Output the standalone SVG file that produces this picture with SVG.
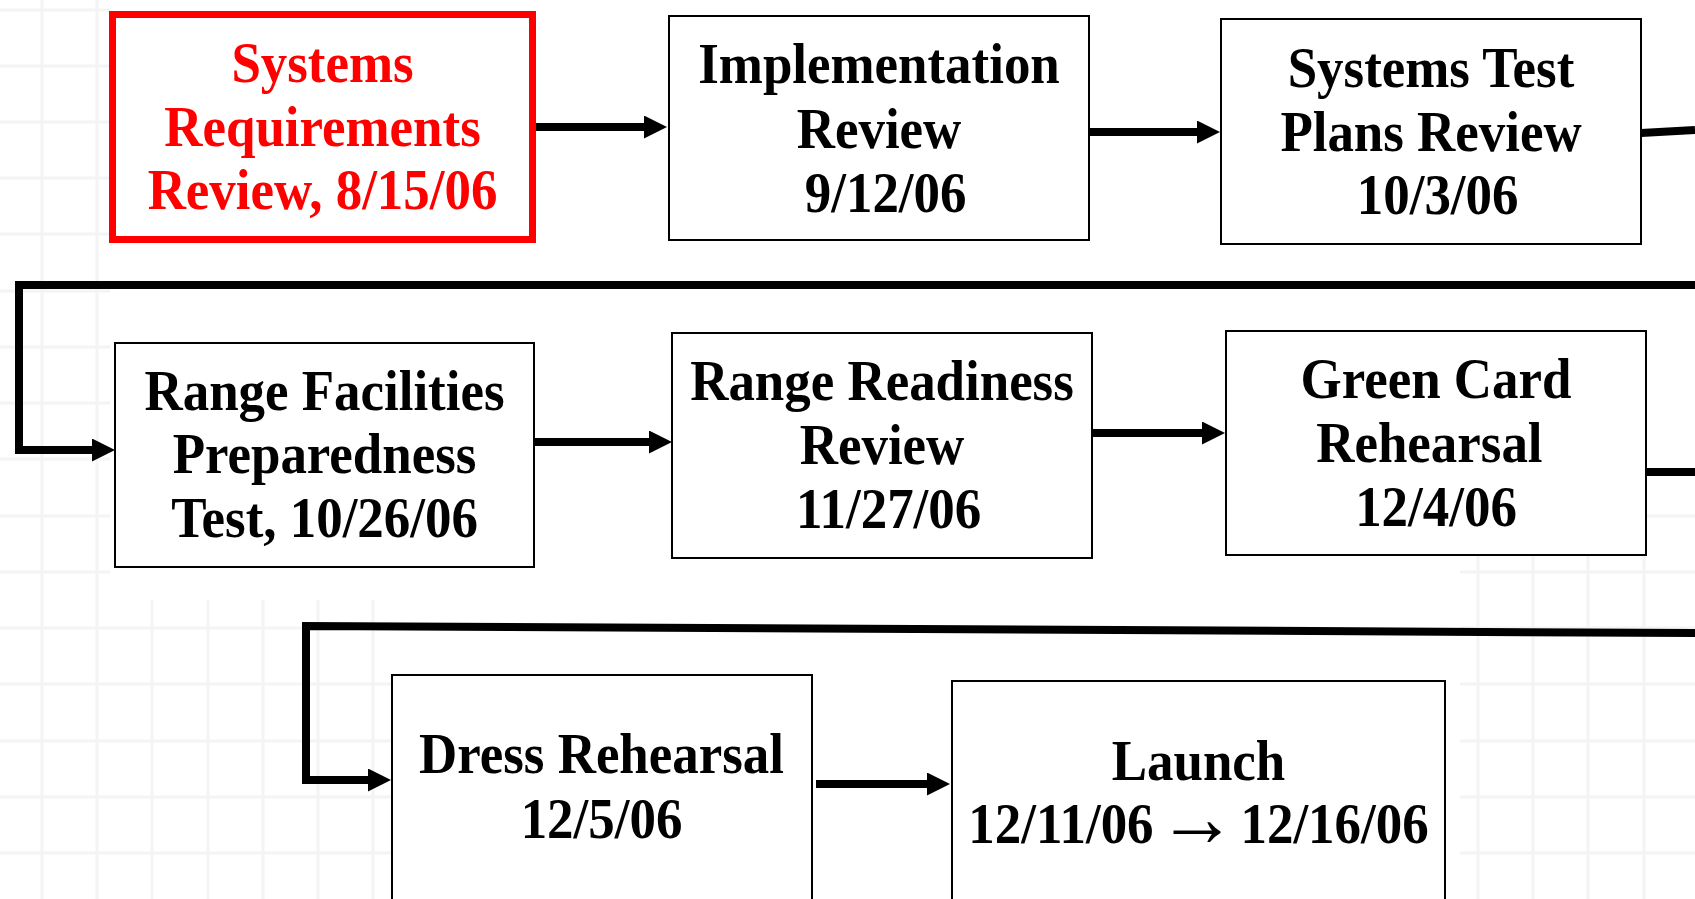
<svg xmlns="http://www.w3.org/2000/svg" width="1695" height="899" viewBox="0 0 1695 899">
  <style>
    .grid line { stroke: #f4f4f4; stroke-width: 3; }
    .box { fill: #ffffff; stroke: #000000; stroke-width: 2; }
    .box-hot { fill: #ffffff; stroke: #ff0000; stroke-width: 7; }
    .lbl { font-family: "Liberation Serif", "Times New Roman", serif; font-weight: bold; font-size: 56px; text-anchor: middle; fill: #000000; }
    .lbl-hot { fill: #ff0000; }
    .wire { fill: none; stroke: #000000; stroke-width: 8; stroke-linejoin: miter; stroke-linecap: butt; }
  </style>
  <defs>
    <marker id="head" markerUnits="userSpaceOnUse" viewBox="0 0 23 23" markerWidth="23" markerHeight="23" refX="0" refY="11.5" orient="auto">
      <path d="M0,0 L23,11.5 L0,23 Z" fill="#000000"/>
    </marker>
  </defs>

  <rect x="0" y="0" width="1695" height="899" fill="#ffffff"/>

  <!-- faint graph-paper background -->
  <g class="grid">
    <line x1="42" y1="0" x2="42" y2="899"/>
    <line x1="97" y1="0" x2="97" y2="899"/>
    <line x1="152" y1="0" x2="152" y2="899"/>
    <line x1="208" y1="0" x2="208" y2="899"/>
    <line x1="263" y1="0" x2="263" y2="899"/>
    <line x1="318" y1="0" x2="318" y2="899"/>
    <line x1="373" y1="0" x2="373" y2="899"/>
    <line x1="1478" y1="0" x2="1478" y2="899"/>
    <line x1="1533" y1="0" x2="1533" y2="899"/>
    <line x1="1588" y1="0" x2="1588" y2="899"/>
    <line x1="1644" y1="0" x2="1644" y2="899"/>
    <line x1="0" y1="10" x2="1695" y2="10"/>
    <line x1="0" y1="66" x2="1695" y2="66"/>
    <line x1="0" y1="122" x2="1695" y2="122"/>
    <line x1="0" y1="178" x2="1695" y2="178"/>
    <line x1="0" y1="234" x2="1695" y2="234"/>
    <line x1="0" y1="291" x2="1695" y2="291"/>
    <line x1="0" y1="347" x2="1695" y2="347"/>
    <line x1="0" y1="403" x2="1695" y2="403"/>
    <line x1="0" y1="459" x2="1695" y2="459"/>
    <line x1="0" y1="516" x2="1695" y2="516"/>
    <line x1="0" y1="572" x2="1695" y2="572"/>
    <line x1="0" y1="628" x2="1695" y2="628"/>
    <line x1="0" y1="684" x2="1695" y2="684"/>
    <line x1="0" y1="741" x2="1695" y2="741"/>
    <line x1="0" y1="797" x2="1695" y2="797"/>
    <line x1="0" y1="853" x2="1695" y2="853"/>
  </g>
  <!-- plain white sheet behind the flow -->
  <rect x="110" y="0" width="1350" height="600" fill="#ffffff"/>
  <rect x="391" y="600" width="1069" height="299" fill="#ffffff"/>
  <rect x="1460" y="0" width="235" height="505" fill="#ffffff"/>

  <!-- connectors -->
  <g id="connectors">
    <path class="wire" d="M534,127 H644" marker-end="url(#head)"/>
    <path class="wire" d="M1090,132 H1197" marker-end="url(#head)"/>
    <path class="wire" d="M1641,133 L1695,130"/>
    <path class="wire" d="M1695,285 H19 V450 H92" marker-end="url(#head)"/>
    <path class="wire" d="M534,442 H649" marker-end="url(#head)"/>
    <path class="wire" d="M1092,433 H1202" marker-end="url(#head)"/>
    <path class="wire" d="M1647,472 H1695"/>
    <path class="wire" d="M1695,633 L306,626 V780 H368" marker-end="url(#head)"/>
    <path class="wire" d="M816,784 H927" marker-end="url(#head)"/>
  </g>

  <g id="systems-requirements-review">
    <rect class="box-hot" x="112.5" y="14.5" width="420" height="225"/>
    <g transform="translate(322.5,0) scale(0.945,1)">
      <text class="lbl lbl-hot" x="0" y="82">Systems</text>
      <text class="lbl lbl-hot" x="0" y="146">Requirements</text>
      <text class="lbl lbl-hot" x="0" y="209">Review, 8/15/06</text>
    </g>
  </g>

  <g id="implementation-review">
    <rect class="box" x="669" y="16" width="420" height="224"/>
    <g transform="translate(879,0) scale(0.945,1)">
      <text class="lbl" x="0" y="83">Implementation</text>
      <text class="lbl" x="0" y="148">Review</text>
      <text class="lbl" x="7" y="212">9/12/06</text>
    </g>
  </g>

  <g id="systems-test-plans-review">
    <rect class="box" x="1221" y="19" width="420" height="225"/>
    <g transform="translate(1431,0) scale(0.945,1)">
      <text class="lbl" x="0" y="87">Systems Test</text>
      <text class="lbl" x="0" y="151">Plans Review</text>
      <text class="lbl" x="7" y="214">10/3/06</text>
    </g>
  </g>

  <g id="range-facilities-preparedness-test">
    <rect class="box" x="115" y="343" width="419" height="224"/>
    <g transform="translate(324.5,0) scale(0.945,1)">
      <text class="lbl" x="0" y="410">Range Facilities</text>
      <text class="lbl" x="0" y="473">Preparedness</text>
      <text class="lbl" x="0" y="537">Test, 10/26/06</text>
    </g>
  </g>

  <g id="range-readiness-review">
    <rect class="box" x="672" y="333" width="420" height="225"/>
    <g transform="translate(882,0) scale(0.945,1)">
      <text class="lbl" x="0" y="400">Range Readiness</text>
      <text class="lbl" x="0" y="464">Review</text>
      <text class="lbl" x="7" y="528">11/27/06</text>
    </g>
  </g>

  <g id="green-card-rehearsal">
    <rect class="box" x="1226" y="331" width="420" height="224"/>
    <g transform="translate(1436,0) scale(0.945,1)">
      <text class="lbl" x="0" y="398">Green Card</text>
      <text class="lbl" x="-7" y="462">Rehearsal</text>
      <text class="lbl" x="0" y="526">12/4/06</text>
    </g>
  </g>

  <g id="dress-rehearsal">
    <rect class="box" x="392" y="675" width="420" height="240"/>
    <g transform="translate(601.5,0) scale(0.945,1)">
      <text class="lbl" x="0" y="773">Dress Rehearsal</text>
      <text class="lbl" x="0" y="838">12/5/06</text>
    </g>
  </g>

  <g id="launch">
    <rect class="box" x="952" y="681" width="493" height="240"/>
    <g transform="translate(1198.5,0) scale(0.945,1)">
      <text class="lbl" x="0" y="780">Launch</text>
      <text class="lbl" x="0" y="843">12/11/06 <tspan font-weight="normal" font-size="84" dx="-10" dy="3">→</tspan><tspan dx="-10" dy="-3"> 12/16/06</tspan></text>
    </g>
  </g>
</svg>
